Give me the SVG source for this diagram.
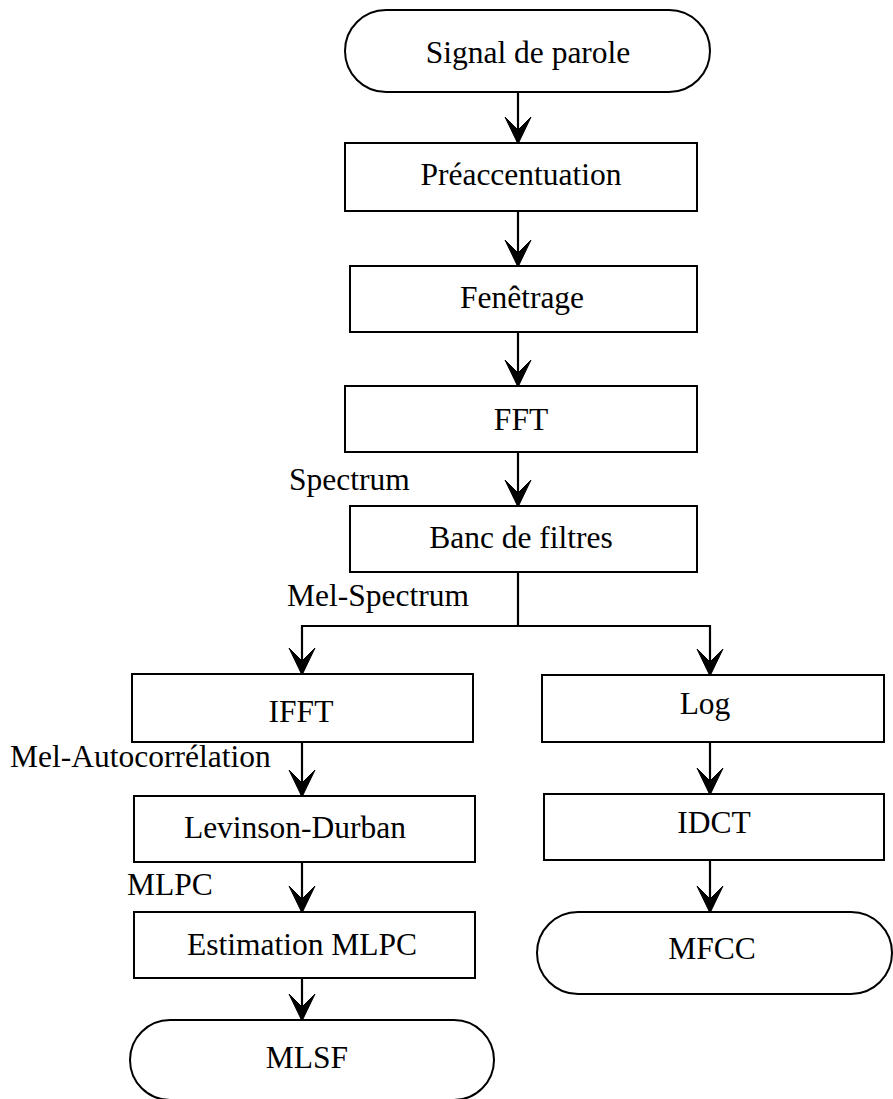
<svg xmlns="http://www.w3.org/2000/svg" width="893" height="1099" viewBox="0 0 893 1099">
<style>
.box{fill:#fff;stroke:#000;stroke-width:2}
.t{font-family:"Liberation Serif","Times New Roman",serif;font-size:31.5px;fill:#000;text-anchor:middle}
.l{font-family:"Liberation Serif","Times New Roman",serif;font-size:31.5px;fill:#000}
.c{fill:none;stroke:#000;stroke-width:2.2}
</style>
<defs>
<marker id="ah" markerUnits="userSpaceOnUse" markerWidth="30" markerHeight="30" viewBox="-28 -15 30 30" refX="0" refY="0" orient="auto" overflow="visible">
<path d="M1,0 L-26,-13 L-13,0 L-26,13 Z" fill="#000" stroke="#000" stroke-width="1" stroke-linejoin="miter"/>
</marker>
</defs>
<rect width="893" height="1099" fill="#fff"/>
<g id="connectors">
<path class="c" d="M518,92 V143" marker-end="url(#ah)"/>
<path class="c" d="M518,211 V266" marker-end="url(#ah)"/>
<path class="c" d="M518,332 V386" marker-end="url(#ah)"/>
<path class="c" d="M518,452 V506" marker-end="url(#ah)"/>
<path class="c" d="M518,572 V626 H302 V674" marker-end="url(#ah)"/>
<path class="c" d="M518,626 H710 V675" marker-end="url(#ah)"/>
<path class="c" d="M302,742 V796" marker-end="url(#ah)"/>
<path class="c" d="M302,862 V912" marker-end="url(#ah)"/>
<path class="c" d="M302,978 V1020" marker-end="url(#ah)"/>
<path class="c" d="M710,742 V794" marker-end="url(#ah)"/>
<path class="c" d="M710,860 V912" marker-end="url(#ah)"/>
<text class="l" x="289" y="490">Spectrum</text>
<text class="l" x="287" y="606">Mel-Spectrum</text>
<text class="l" x="10" y="767">Mel-Autocorrélation</text>
<text class="l" x="127" y="895">MLPC</text>
</g>
<g id="signal"><rect class="box" x="345" y="10" width="365" height="82" rx="41"/><text class="t" x="528" y="63">Signal de parole</text></g>
<g id="preaccentuation"><rect class="box" x="345" y="143" width="352" height="68"/><text class="t" x="521" y="185">Préaccentuation</text></g>
<g id="fenetrage"><rect class="box" x="350" y="266" width="347" height="66"/><text class="t" x="522" y="308">Fenêtrage</text></g>
<g id="fft"><rect class="box" x="345" y="386" width="352" height="66"/><text class="t" x="521" y="430">FFT</text></g>
<g id="banc"><rect class="box" x="350" y="506" width="347" height="66"/><text class="t" x="521" y="548">Banc de filtres</text></g>
<g id="ifft"><rect class="box" x="132" y="674" width="341" height="68"/><text class="t" x="301" y="722">IFFT</text></g>
<g id="levinson"><rect class="box" x="134" y="796" width="341" height="66"/><text class="t" x="295" y="838">Levinson-Durban</text></g>
<g id="estimation"><rect class="box" x="134" y="912" width="341" height="66"/><text class="t" x="302" y="955">Estimation MLPC</text></g>
<g id="mlsf"><rect class="box" x="130" y="1020" width="364" height="80" rx="40"/><text class="t" x="307" y="1068">MLSF</text></g>
<g id="log"><rect class="box" x="542" y="675" width="342" height="67"/><text class="t" x="705" y="714">Log</text></g>
<g id="idct"><rect class="box" x="544" y="794" width="340" height="66"/><text class="t" x="714" y="833">IDCT</text></g>
<g id="mfcc"><rect class="box" x="537" y="912" width="355" height="82" rx="41"/><text class="t" x="712" y="959">MFCC</text></g>
</svg>
